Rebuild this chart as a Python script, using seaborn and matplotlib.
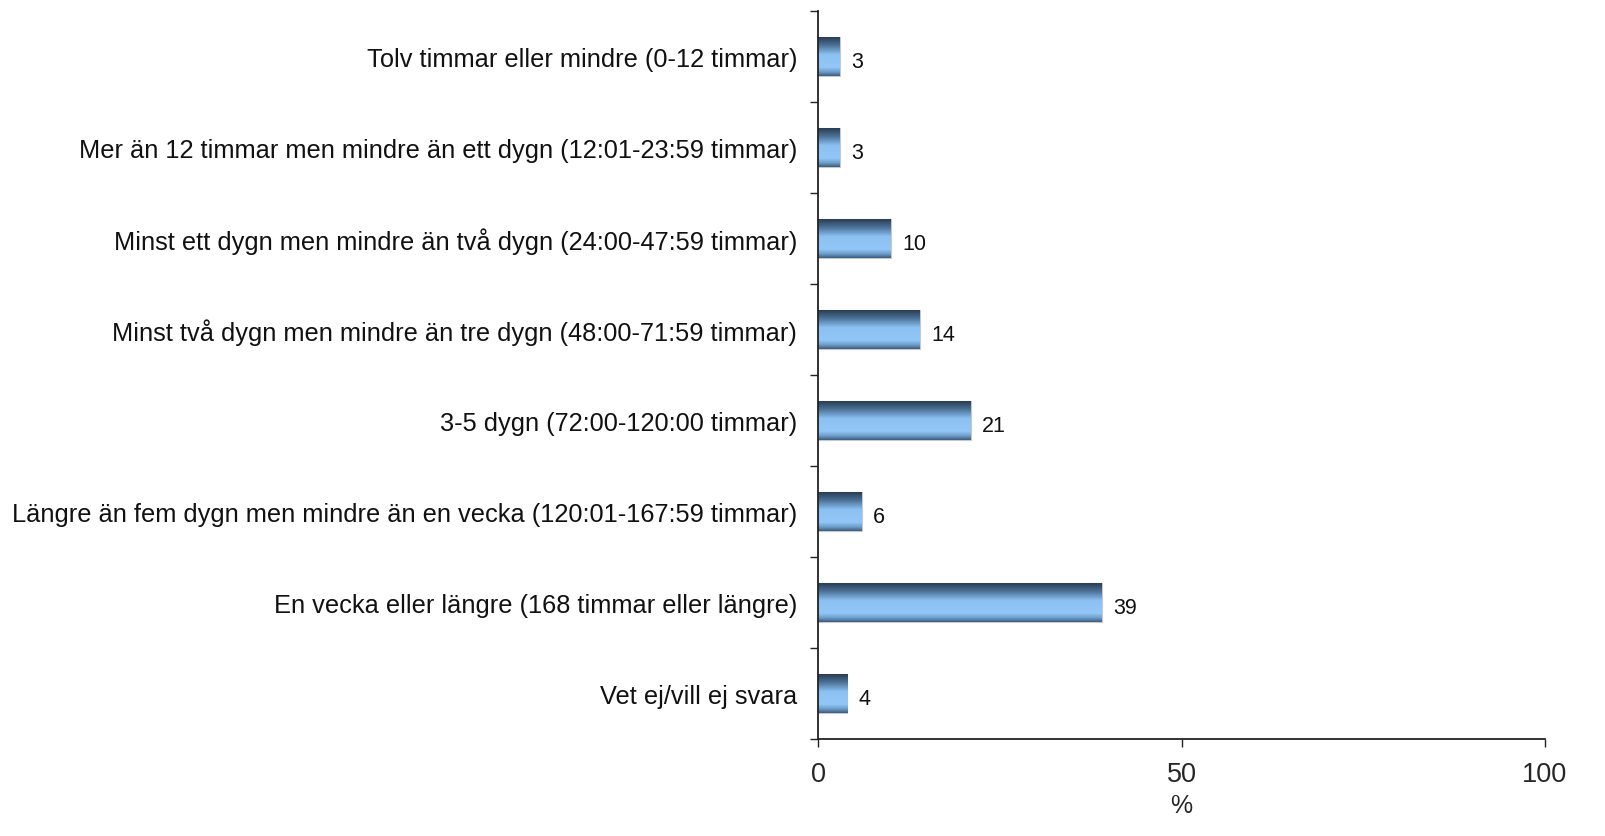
import numpy as np
import pandas as pd
import matplotlib
matplotlib.use("Agg")
import matplotlib.pyplot as plt
import seaborn as sns
from matplotlib.colors import LinearSegmentedColormap

categories = [
    "Tolv timmar eller mindre (0-12 timmar)",
    "Mer än 12 timmar men mindre än ett dygn (12:01-23:59 timmar)",
    "Minst ett dygn men mindre än två dygn (24:00-47:59 timmar)",
    "Minst två dygn men mindre än tre dygn (48:00-71:59 timmar)",
    "3-5 dygn (72:00-120:00 timmar)",
    "Längre än fem dygn men mindre än en vecka (120:01-167:59 timmar)",
    "En vecka eller längre (168 timmar eller längre)",
    "Vet ej/vill ej svara",
]
values = [3, 3, 10, 14, 21, 6, 39, 4]
x_ticks = [0, 50, 100]

sns.set_theme(style="white")
plt.rcParams['font.family'] = ['Liberation Sans', 'DejaVu Sans']

df = pd.DataFrame({"cat": categories, "val": values})
fig = plt.figure(figsize=(16.06, 8.37), dpi=100)
ax = fig.add_axes([818/1606, 1-740/837, (1545-818)/1606, (740-12)/837])
sns.barplot(data=df, y="cat", x="val", orient="h", color="#8fc4f5",
            width=0.42, ax=ax, saturation=1)

cmap = LinearSegmentedColormap.from_list("g", [
    (0.0, "#2a3e54"), (0.2, "#4a6f94"), (0.45, "#8cc2f3"),
    (0.78, "#92c6f6"), (0.9, "#6d9cc8"), (1.0, "#3c5f80")])
grad = np.linspace(0, 1, 100).reshape(-1, 1)
for p in ax.patches:
    x0, y0 = p.get_x(), p.get_y()
    w, h = p.get_width(), p.get_height()
    im = ax.imshow(grad, cmap=cmap, aspect="auto",
                   extent=[x0, x0 + w, y0 + h, y0], zorder=p.get_zorder() + 0.1)
    im.set_clip_path(p)
    p.set_edgecolor("#c8c8c8")
    p.set_linewidth(0.8)

for i, v in enumerate(values):
    ax.text(v + 1.6, i + 0.05, str(v), va="center", ha="left", fontsize=15.5, color="#111111")

ax.set_xlim(0, 100)
ax.set_ylim(7.5, -0.5)
ax.set_xticks(x_ticks)
ax.set_xticklabels([str(t) for t in x_ticks], fontsize=19.5)
ax.set_xlabel("%", fontsize=18, labelpad=4)
ax.set_ylabel("")
ax.set_yticks(range(len(categories)))
ax.set_yticklabels(categories, fontsize=18.3, color="#111111")
ax.set_yticks(np.arange(-0.5, 8.0, 1.0), minor=True)
ax.tick_params(axis="y", which="major", length=0, pad=15)
ax.tick_params(axis="y", which="minor", left=True, length=6, width=1, color="#222222", direction="out")
ax.tick_params(axis="x", which="major", bottom=True, length=6, width=1, color="#222222", direction="out", pad=10)
for s in ["top", "right"]:
    ax.spines[s].set_visible(False)
for s in ["left", "bottom"]:
    ax.spines[s].set_color("#222222")
    ax.spines[s].set_linewidth(1.3)

fig.savefig("out.png", dpi=100)
